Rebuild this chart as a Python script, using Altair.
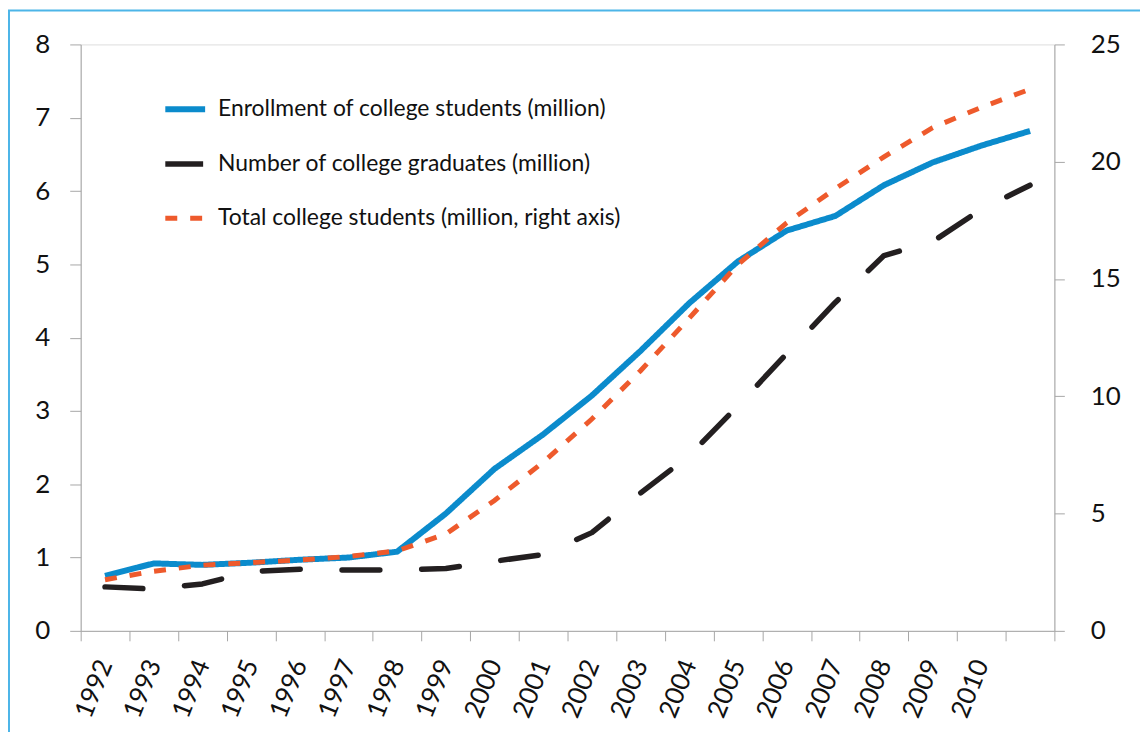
import altair as alt
import pandas as pd

years = ["1992", "1993", "1994", "1995", "1996", "1997", "1998", "1999", "2000", "2001",
         "2002", "2003", "2004", "2005", "2006", "2007", "2008", "2009", "2010", "2011"]
enrollment = [0.75, 0.92, 0.90, 0.93, 0.97, 1.00, 1.08, 1.60, 2.21, 2.68,
              3.21, 3.82, 4.47, 5.04, 5.46, 5.66, 6.08, 6.39, 6.62, 6.82]
graduates = [0.60, 0.57, 0.64, 0.81, 0.84, 0.83, 0.83, 0.85, 0.95, 1.04,
             1.34, 1.88, 2.39, 3.07, 3.78, 4.48, 5.12, 5.31, 5.75, 6.08]
total = [2.18, 2.54, 2.80, 2.91, 3.02, 3.17, 3.41, 4.13, 5.56, 7.19,
         9.03, 11.09, 13.33, 15.62, 17.39, 18.85, 20.21, 21.45, 22.32, 23.09]

series_names = ["Enrollment of college students (million)",
                "Number of college graduates (million)",
                "Total college students (million, right axis)"]
colors = ["#0b8bcc", "#231f20", "#ee5a2c"]
dashes = [[1, 0], [38, 42], [12, 13]]
widths = [6, 5, 3]

df_enr = pd.DataFrame({"year": years, "series": series_names[0], "value": enrollment})
df_grad = pd.DataFrame({"year": years, "series": series_names[1], "value": graduates})
df_tot = pd.DataFrame({"year": years, "series": series_names[2], "value": total})

FONT = "Lato"
AXIS_COLOR = "#a6a6a6"
BORDER = "#4cb5e8"
W, H = 978, 589

legend = alt.Legend(
    title=None, orient="none", legendX=82, legendY=42,
    symbolType="stroke", symbolSize=1600, labelFont=FONT, labelFontSize=23,
    labelColor="#111111", labelOffset=10, rowPadding=20, labelLimit=700,
)

x_enc = alt.X(
    "year:N",
    sort=years,
    scale=alt.Scale(type="band", paddingInner=0, paddingOuter=0),
    axis=alt.Axis(
        title=None, tickBand="extent", labelAngle=-68, labelAlign="right",
        labelBaseline="middle", labelExpr="datum.label == '2011' ? '' : datum.label",
        labelFont=FONT, labelFontSize=26, labelColor="#111111", labelPadding=20,
        tickSize=10, tickColor=AXIS_COLOR, domainColor=AXIS_COLOR, grid=False,
    ),
)

color_enc = alt.Color("series:N", scale=alt.Scale(domain=series_names, range=colors), legend=legend)
dash_enc = alt.StrokeDash("series:N", scale=alt.Scale(domain=series_names, range=dashes), legend=legend)
width_enc = alt.StrokeWidth("series:N", scale=alt.Scale(domain=series_names, range=widths), legend=legend)

left_y = alt.Y(
    "value:Q",
    scale=alt.Scale(domain=[0, 8], nice=False),
    axis=alt.Axis(
        title=None, values=[0, 1, 2, 3, 4, 5, 6, 7, 8], orient="left",
        labelFont=FONT, labelFontSize=26, labelColor="#111111", labelPadding=20,
        tickSize=11, tickColor=AXIS_COLOR, domainColor=AXIS_COLOR, grid=False,
    ),
)
right_y = alt.Y(
    "value:Q",
    scale=alt.Scale(domain=[0, 25], nice=False),
    axis=alt.Axis(
        title=None, values=[0, 5, 10, 15, 20, 25], orient="right",
        labelFont=FONT, labelFontSize=26, labelColor="#111111", labelPadding=26,
        tickSize=10, tickColor=AXIS_COLOR, domainColor=AXIS_COLOR, grid=False,
    ),
)

frame_data = pd.DataFrame({"k": [0]})
border_left = alt.Chart(frame_data).mark_rule(stroke=BORDER, strokeWidth=2).encode(
    x=alt.value(-72), y=alt.value(-34), y2=alt.value(H + 200)
)
border_top = alt.Chart(frame_data).mark_rule(stroke=BORDER, strokeWidth=2).encode(
    x=alt.value(-73), x2=alt.value(W + 200), y=alt.value(-34)
)

enr = alt.Chart(df_enr).mark_line(strokeCap="butt", strokeJoin="miter").encode(
    x=x_enc, y=left_y, color=color_enc, strokeDash=dash_enc, strokeWidth=width_enc
)
grad = alt.Chart(df_grad).mark_line(strokeCap="round", strokeJoin="round").encode(
    x=x_enc, y=left_y, color=color_enc, strokeDash=dash_enc, strokeWidth=width_enc
)
tot = alt.Chart(df_tot).mark_line(strokeCap="butt").encode(
    x=x_enc, y=right_y, color=color_enc, strokeDash=dash_enc, strokeWidth=width_enc
)

left_layer = alt.layer(border_left, border_top, enr, grad)
chart = alt.layer(left_layer, tot).resolve_scale(y="independent").properties(
    width=W, height=H,
    padding={"left": 73, "top": 35, "right": 86, "bottom": 100},
    autosize=alt.AutoSizeParams(type="none"),
).configure_view(stroke=None).configure(background="white")

chart.save("out.html", embed_options={"renderer": "svg", "actions": False})
